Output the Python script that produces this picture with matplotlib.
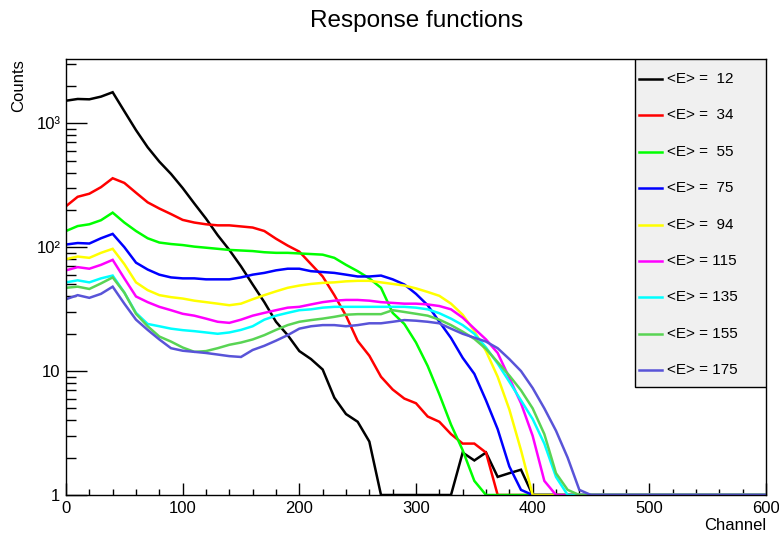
import numpy as np
import matplotlib
matplotlib.use("Agg")
import matplotlib.pyplot as plt
from matplotlib.ticker import MultipleLocator, LogLocator, FuncFormatter, NullFormatter
from matplotlib.patches import Rectangle

plt.rcParams['font.family'] = ['Liberation Sans', 'DejaVu Sans']

# counts per 10-channel step, channel 0 .. 450 (empty channels beyond)
energies = [12, 34, 55, 75, 94, 115, 135, 155, 175]

e12 = [1520, 1570, 1560, 1640, 1780, 1250, 880, 640, 490, 390,
       300, 225, 170, 125, 95, 70, 50, 36, 25, 19.5,
       14.5, 12.5, 10.3, 6.1, 4.5, 3.9, 2.7, 0, 0, 0,
       0, 0, 0, 0, 2.2, 1.9, 2.2, 1.4, 1.5, 1.6,
       0, 0, 0, 0, 0, 0]
e34 = [214, 255, 270, 305, 360, 330, 275, 230, 205, 185,
       166, 158, 153, 150, 150, 147, 144, 135, 117, 103,
       92, 73, 58, 41, 28, 17.5, 13.3, 9, 7.1, 6.0,
       5.5, 4.3, 3.9, 3.1, 2.6, 2.6, 2.2, 1.0, 0, 0,
       0, 0, 0, 0, 0, 0]
e55 = [135, 148, 153, 165, 190, 158, 135, 118, 109, 106,
       104, 101, 99, 97, 95, 94, 93, 91, 90, 90,
       89, 88, 87, 82, 72, 64, 56, 47, 29.5, 24,
       17, 11, 6.5, 3.7, 2.3, 1.3, 0, 0, 0, 0,
       0, 0, 0, 0, 0, 0]
e75 = [105, 108, 107, 118, 128, 100, 75, 66, 60, 57,
       56, 56, 55, 55, 55, 57, 60, 62, 65, 67,
       67, 64, 63, 62, 60, 58, 58, 59, 55, 50,
       42, 34, 25, 18.5, 12.8, 9.5, 5.8, 3.4, 1.7, 1.1,
       0, 0, 0, 0, 0, 0]
e94 = [80, 84, 82, 90, 97, 73, 52, 45, 41, 39.5,
       38.5, 37, 36, 35, 34, 35, 38, 41, 44, 47,
       49, 50.5, 51.5, 52, 53, 53.5, 53.5, 52, 50.5, 49,
       46.5, 43.5, 40.5, 35, 28.5, 21, 14.5, 9, 4.9, 2.3,
       1.0, 0, 0, 0, 0, 0]
e115 = [65, 69, 67, 72, 79, 56, 40, 36, 33, 31,
        29, 28, 26.5, 25, 24.5, 26, 28, 29.5, 31, 32.5,
        33, 34.5, 36, 37, 37.5, 37.5, 37, 36, 35.5, 35,
        35, 34.5, 33.5, 31.5, 27, 22, 18, 14, 8.8, 5.5,
        3.0, 1.3, 0, 0, 0, 0]
e135 = [52, 54, 52, 56, 59, 43, 29.5, 24, 23, 22,
        21.4, 21, 20.5, 20, 20.5, 21.5, 23, 26, 28, 29.5,
        31, 31.5, 32.5, 33, 33, 33, 33, 33, 33, 33,
        32.5, 31.5, 29.3, 26.5, 23.5, 20, 15.5, 11.5, 8.2, 5.8,
        4.1, 2.6, 1.4, 0, 0, 0]
e155 = [47, 48, 46, 51, 57, 43, 29, 23, 19, 17.3,
        15.5, 14.3, 14.5, 15.3, 16.3, 17, 18, 19.5, 21.5, 23.5,
        25, 25.8, 26.5, 27.4, 28.5, 28.8, 28.8, 28.8, 31, 30,
        29, 28, 26, 23.5, 20.8, 18.2, 15.1, 11.8, 9.2, 7.0,
        5.0, 3.1, 1.5, 1.1, 0, 0]
e175 = [38, 41, 39, 42, 48, 35, 26, 21.5, 18, 15.3,
        14.6, 14.3, 14, 13.6, 13.2, 13, 14.8, 16, 17.6, 19.5,
        22, 23, 23.5, 23.5, 23, 23.5, 24.3, 24.3, 25, 25.8,
        25.5, 25, 24.3, 22, 20, 18.6, 17.3, 15.3, 12.5, 10,
        7.3, 5, 3.3, 2.0, 1.1, 0]

series = [e12, e34, e55, e75, e94, e115, e135, e155, e175]
colors = ['#000000', '#ff0000', '#00ff00', '#0000ff', '#ffff00',
          '#ff00ff', '#00ffff', '#59d454', '#5954d8']

ymin, ymax = 1, 3300
channel = np.arange(0, 610, 10)

fig = plt.figure(figsize=(7.79, 5.35), dpi=100)
ax = fig.add_axes([66 / 779, 1 - 495 / 535, 700 / 779, 436 / 535])

for vals, col in zip(series, colors):
    y = np.zeros(len(channel))
    y[:len(vals)] = vals
    # empty channels sit on the bottom of the frame
    y = np.maximum(y, ymin)
    ax.plot(channel, y, color=col, lw=1.8, solid_joinstyle='miter')

ax.set_xlim(0, 600)
ax.set_yscale('log')
ax.set_ylim(ymin, ymax)

ax.xaxis.set_major_locator(MultipleLocator(100))
ax.xaxis.set_minor_locator(MultipleLocator(20))
ax.yaxis.set_major_locator(LogLocator(base=10))
ax.yaxis.set_minor_locator(LogLocator(base=10, subs=range(2, 10)))
ax.yaxis.set_minor_formatter(NullFormatter())
sup = {2: '\u00b2', 3: '\u00b3'}
ax.yaxis.set_major_formatter(FuncFormatter(
    lambda v, p: '1' if v < 5 else ('10' if v < 50 else '10' + sup.get(int(round(np.log10(v))), ''))))

ax.tick_params(which='both', direction='in', top=False, right=False, width=1, labelsize=12)
ax.tick_params(axis='x', which='major', length=9, pad=4)
ax.tick_params(axis='x', which='minor', length=4.5)
ax.tick_params(axis='y', which='major', length=15, pad=4)
ax.tick_params(axis='y', which='minor', length=7.5)
for s in ax.spines.values():
    s.set_linewidth(1.0)

# legend box in the upper right corner
lx0, ly0 = (634.7 - 66) / 700, 1 - (386.7 - 59) / 436
ax.add_patch(Rectangle((lx0, ly0), 1 - lx0, 1 - ly0, transform=ax.transAxes,
                       facecolor='#f0f0f0', edgecolor='black', lw=1.0, zorder=5))
for i, (e, col) in enumerate(zip(energies, colors)):
    yy = 0.954 - i * 0.0835
    ax.plot([0.8186, 0.8514], [yy, yy], transform=ax.transAxes, color=col,
            lw=1.8, zorder=6, clip_on=False)
    ax.text(0.8586, yy, '<E> = %3d' % e, transform=ax.transAxes, fontsize=11,
            ha='left', va='center', zorder=6)

fig.text(0.535, 1 - 21 / 535, 'Response functions', ha='center', va='center', fontsize=17.5)
fig.text(766 / 779, 1 - 526 / 535, 'Channel', ha='right', va='center', fontsize=12)
fig.text(19 / 779, 1 - 59 / 535, 'Counts', ha='center', va='top', rotation=90, fontsize=12)

fig.savefig('out.png', dpi=100)
